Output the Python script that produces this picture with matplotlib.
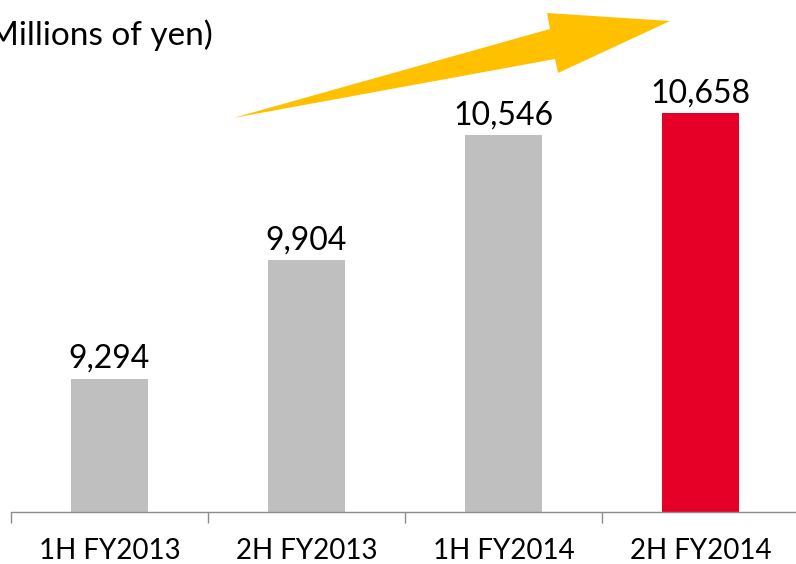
import matplotlib.pyplot as plt
from matplotlib.patches import Polygon

# data
periods = ['1H FY2013', '2H FY2013', '1H FY2014', '2H FY2014']
sales = [9294, 9904, 10546, 10658]
colors = ['#BFBFBF', '#BFBFBF', '#BFBFBF', '#E60028']

plt.rcParams['font.family'] = ['Lato', 'DejaVu Sans']

W, H = 796, 564
fig = plt.figure(figsize=(W / 100, H / 100), dpi=100)
ax = fig.add_axes([11 / W, (H - 512) / H, 788 / W, 512 / H])

x = range(len(periods))
ax.bar(x, sales, width=0.39, color=colors)

for i, v in enumerate(sales):
    ax.annotate(f'{v:,}', (i, v), xytext=(0, 7.9), textcoords='offset points',
                ha='center', va='baseline', fontsize=23)

ax.set_xlim(-0.5, 3.5)
ax.set_ylim(8611, 11239)
ax.set_yticks([])
for s in ['top', 'right', 'left']:
    ax.spines[s].set_visible(False)
ax.spines['bottom'].set_color('#8C8C8C')
ax.spines['bottom'].set_linewidth(1)

ax.set_xticks(list(x))
ax.set_xticklabels(periods, fontsize=20)
ax.tick_params(axis='x', which='major', length=0, pad=19)
ax.set_xticks([i - 0.5 for i in range(len(periods) + 1)], minor=True)
ax.tick_params(axis='x', which='minor', length=8, width=1, color='#8C8C8C', direction='out')

fig.text(213 / W, 1 - 45 / H, '(Millions of yen)', ha='right', va='baseline', fontsize=24)

# trend arrow
pts = [(233, 118), (555, 59), (558, 73), (670, 21), (547, 13), (550, 29)]
arrow = Polygon([(px / W, 1 - py / H) for px, py in pts], closed=True,
                transform=fig.transFigure, facecolor='#FFC000', edgecolor='none')
fig.patches.append(arrow)

fig.savefig('out.png', dpi=100)
